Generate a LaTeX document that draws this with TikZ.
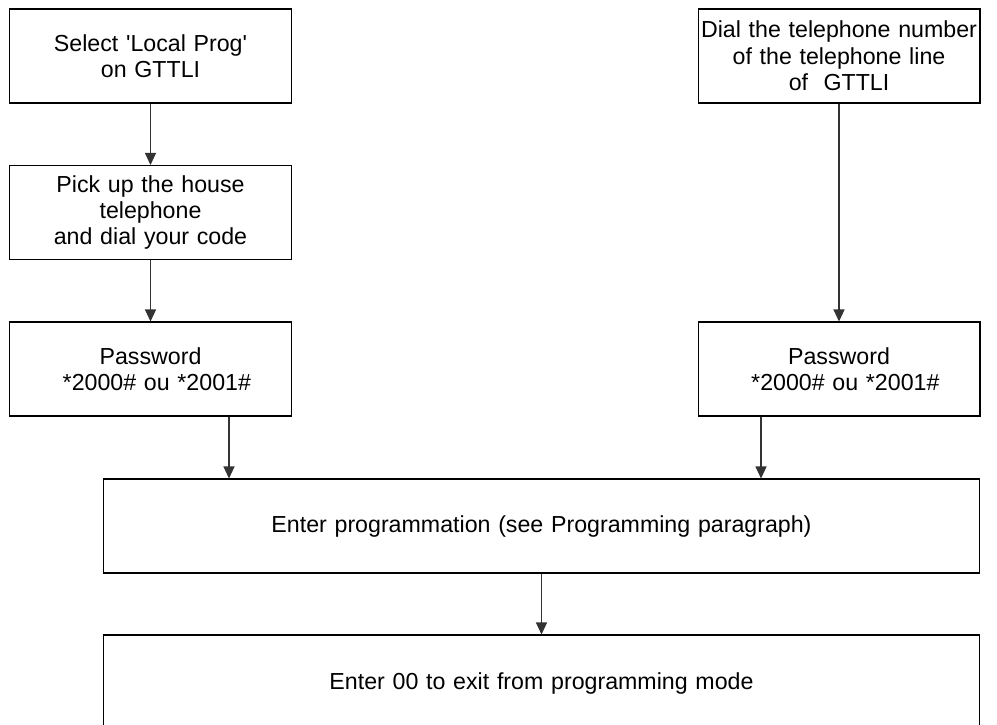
\documentclass[tikz,border=0pt]{standalone}
\usepackage{fontspec}
\setmainfont{Liberation Sans}
\usepackage{tikz}
\usetikzlibrary{arrows.meta}
\tikzset{stepbox/.style={rectangle,draw=black,line width=0.6pt,align=center,inner xsep=0pt,text width=5.64cm,minimum height=1.88cm,font=\fontsize{13.2}{15}\selectfont}}
\tikzset{widebox/.style={stepbox,text width=17.54cm}}
\tikzset{flow/.style={-{Triangle[length=0.24cm,width=0.22cm]},line width=0.6pt,draw=black!80}}
\newcommand{\stepnode}{\node[stepbox]}
\newcommand{\widenode}{\node[widebox]}
\newcommand{\pwtext}{Password\\\hspace*{0.55em}*2000\# ou *2001\#}

\begin{document}
\begin{tikzpicture}[x=0.02cm,y=-0.02cm]
      \clip (0,0) rectangle (997,724);
      \stepnode (select) at (150.5,56) {Select \textquotesingle Local Prog\textquotesingle\\on GTTLI}; % local side
      \stepnode (pickup) at (150.5,212.5) {Pick up the house\\telephone\\and dial your code};
      \stepnode (pwlocal) at (150.5,369) {\pwtext};
      \stepnode (dial) at (839,56) {\mbox{Dial the telephone number}\\of the telephone line\\of\ \ GTTLI}; % remote side
      \stepnode (pwremote) at (839,369) {\pwtext};
      \widenode (enter) at (541.5,526) {Enter programmation (see Programming paragraph)}; %
      \widenode[minimum height=1.92cm] (leave) at (541.5,683) {Enter 00 to exit from programming mode};
      \draw[flow] (select) -- (pickup);
      \draw[flow] (pickup) -- (pwlocal);
      \draw[flow] (dial) -- (pwremote);
      \draw[flow] ([xshift=1.57cm]pwlocal.south) -- ([xshift=1.57cm]pwlocal.south |- enter.north);
      \draw[flow] ([xshift=-1.56cm]pwremote.south) -- ([xshift=-1.56cm]pwremote.south |- enter.north);
      \draw[flow] (enter) -- (leave);
    \end{tikzpicture}
\end{document}
